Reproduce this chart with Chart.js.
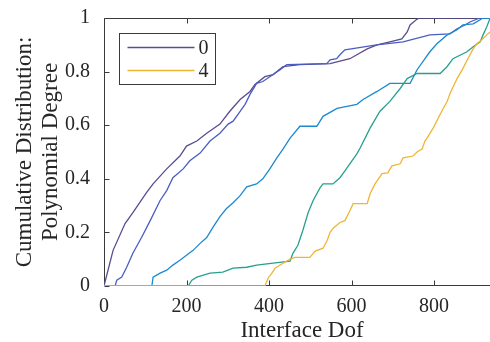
<!DOCTYPE html>
<html lang="en">
<head>
<meta charset="UTF-8">
<title>Cumulative distribution of interface dof</title>
<script src="https://cdn.jsdelivr.net/npm/chart.js"></script>
<style>
  html, body { margin: 0; padding: 0; overflow: hidden; background: #fff; }
  /* a bit wider than the window: the right side of the box is cut off like in the figure */
  #wrap { position: relative; width: 500px; height: 342px; }
</style>
</head>
<body>
<div id="wrap"><canvas id="cdf"></canvas></div>

<script>
// polynomial degrees (one empirical CDF each)
const degreeLabels = ['0', '1', '2', '3', '4'];

// values: interface dof (x) and cumulative fraction (y)
const deg0X = [0, 22, 51, 70, 103, 119, 152, 184, 200, 225, 249, 281, 305, 330, 354, 366, 390, 410, 434, 475, 548, 596, 613, 638, 662, 693, 722, 735, 742, 759, 760, 960];
const deg0Y = [0, 0.133, 0.233, 0.274, 0.348, 0.381, 0.437, 0.485, 0.522, 0.541, 0.570, 0.604, 0.652, 0.696, 0.726, 0.752, 0.781, 0.789, 0.819, 0.826, 0.830, 0.848, 0.863, 0.885, 0.900, 0.911, 0.922, 0.948, 0.974, 0.996, 1, 1];

const deg1X = [0, 27, 31, 43, 55, 70, 91, 112, 136, 152, 167, 192, 208, 233, 257, 281, 301, 313, 330, 342, 354, 370, 385, 402, 427, 443, 540, 548, 564, 572, 584, 661, 725, 790, 839, 855, 875, 887, 911, 960];
const deg1Y = [0, 0, 0.022, 0.033, 0.070, 0.122, 0.181, 0.244, 0.319, 0.356, 0.404, 0.437, 0.467, 0.496, 0.541, 0.570, 0.604, 0.615, 0.652, 0.678, 0.715, 0.756, 0.763, 0.781, 0.807, 0.826, 0.830, 0.844, 0.848, 0.863, 0.881, 0.900, 0.911, 0.937, 0.941, 0.959, 0.974, 0.985, 1, 1];

const deg2X = [0, 116, 119, 136, 152, 167, 184, 200, 216, 233, 249, 264, 281, 297, 313, 330, 346, 370, 385, 402, 419, 434, 451, 475, 516, 531, 565, 613, 628, 662, 693, 742, 759, 773, 790, 807, 832, 856, 870, 895, 919, 960];
const deg2Y = [0, 0, 0.033, 0.048, 0.059, 0.078, 0.096, 0.115, 0.133, 0.159, 0.181, 0.219, 0.259, 0.289, 0.311, 0.337, 0.370, 0.381, 0.400, 0.437, 0.478, 0.511, 0.552, 0.596, 0.596, 0.633, 0.663, 0.678, 0.696, 0.726, 0.756, 0.756, 0.807, 0.837, 0.874, 0.904, 0.937, 0.956, 0.974, 0.978, 1, 1];

const deg3X = [0, 204, 213, 225, 257, 288, 313, 346, 370, 410, 451, 458, 470, 482, 495, 507, 524, 531, 555, 572, 584, 601, 613, 621, 645, 669, 693, 718, 735, 759, 815, 832, 846, 880, 895, 912, 919, 928, 936, 960];
const deg3Y = [0, 0, 0.022, 0.033, 0.048, 0.052, 0.067, 0.070, 0.078, 0.085, 0.093, 0.122, 0.152, 0.207, 0.274, 0.319, 0.367, 0.381, 0.381, 0.404, 0.430, 0.467, 0.493, 0.515, 0.589, 0.652, 0.689, 0.737, 0.774, 0.793, 0.793, 0.819, 0.848, 0.874, 0.893, 0.911, 0.937, 0.967, 1, 1];

const deg4X = [0, 390, 398, 407, 415, 434, 451, 463, 499, 512, 531, 541, 548, 555, 572, 584, 596, 604, 638, 645, 657, 674, 688, 698, 718, 725, 749, 759, 771, 778, 783, 798, 815, 832, 839, 856, 870, 882, 895, 904, 916, 928, 936, 948, 956, 960];
const deg4Y = [0, 0, 0.030, 0.048, 0.067, 0.085, 0.100, 0.107, 0.107, 0.130, 0.141, 0.170, 0.200, 0.215, 0.237, 0.244, 0.281, 0.307, 0.307, 0.344, 0.381, 0.419, 0.422, 0.448, 0.456, 0.478, 0.485, 0.500, 0.511, 0.541, 0.552, 0.589, 0.641, 0.689, 0.719, 0.774, 0.811, 0.848, 0.885, 0.904, 0.919, 0.937, 0.948, 0.970, 1, 1];

const seriesX = [deg0X, deg1X, deg2X, deg3X, deg4X];
const seriesY = [deg0Y, deg1Y, deg2Y, deg3Y, deg4Y];

const xTicks = [0, 200, 400, 600, 800];
const yTicks = [0, 0.2, 0.4, 0.6, 0.8, 1];

const lineColors = ['#5c4b8f', '#4a5ec2', '#1b8ad0', '#27a08f', '#efb634'];
const legendShown = [0, 4];

const axisColor = '#3a3a3a';
const serif = '"Liberation Serif", "DejaVu Serif", serif';

// matlab style box with inward ticks (drawn under the lines)
const axesBox = {
    id: 'axesBox',
    beforeDatasetsDraw(chart) {
        const { ctx, chartArea: a, scales } = chart;
        const L = Math.round(a.left) + 0.5, T = Math.round(a.top) + 0.5, B = Math.round(a.bottom) - 0.5;
        const tick = 5;
        ctx.save();
        ctx.strokeStyle = axisColor;
        ctx.lineWidth = 1;
        ctx.beginPath();
        ctx.moveTo(a.right + 2, T); ctx.lineTo(L, T); ctx.lineTo(L, B); ctx.lineTo(a.right + 2, B);
        xTicks.forEach(v => {
            const px = Math.round(scales.x.getPixelForValue(v)) + 0.5;
            ctx.moveTo(px, B); ctx.lineTo(px, B - tick);
            ctx.moveTo(px, T); ctx.lineTo(px, T + tick);
        });
        yTicks.forEach(v => {
            const py = Math.round(scales.y.getPixelForValue(v)) + 0.5;
            ctx.moveTo(L, py); ctx.lineTo(L + tick, py);
        });
        ctx.stroke();
        ctx.restore();
    },
    afterDraw(chart) {
        // legend box, only degrees 0 and 4 as in the figure
        const { ctx, chartArea: a } = chart;
        const bx = Math.round(a.left) + 15.5, by = Math.round(a.top) + 15.5;
        ctx.save();
        ctx.fillStyle = '#fff';
        ctx.fillRect(bx, by, 96, 51);
        ctx.strokeStyle = axisColor;
        ctx.lineWidth = 1;
        ctx.strokeRect(bx, by, 96, 51);
        ctx.font = '20px ' + serif;
        ctx.textBaseline = 'middle';
        legendShown.forEach((i, row) => {
            const ds = chart.data.datasets[i];
            const ly = Math.round(by + 13.5 + row * 23) + 0.5;
            ctx.strokeStyle = ds.borderColor;
            ctx.lineWidth = 1.3;
            ctx.beginPath();
            ctx.moveTo(bx + 8, ly); ctx.lineTo(bx + 75, ly);
            ctx.stroke();
            ctx.fillStyle = '#262626';
            ctx.fillText(ds.label, bx + 79, ly + 1);
        });
        ctx.restore();
    }
};

const datasets = degreeLabels.map((lab, i) => ({
    label: lab,
    data: seriesX[i].map((x, k) => ({ x: x, y: seriesY[i][k] })),
    borderColor: lineColors[i],
    backgroundColor: lineColors[i],
    borderWidth: 1.3,
    pointRadius: 0,
    tension: 0,
    fill: false,
    order: degreeLabels.length - i   // later degrees on top, like matlab
}));

new Chart(document.getElementById('cdf'), {
    type: 'line',
    data: { datasets: datasets },
    options: {
        responsive: true,
        maintainAspectRatio: false,
        animation: false,
        layout: { padding: { top: 16, left: 0, right: 0, bottom: 0 } },
        plugins: {
            legend: { display: false },
            tooltip: { enabled: false }
        },
        scales: {
            x: {
                type: 'linear',
                min: 0,
                max: 960,
                grid: { display: false },
                border: { display: false },
                afterBuildTicks: s => { s.ticks = xTicks.map(v => ({ value: v })); },
                afterFit: s => { s.height = 56; },
                ticks: {
                    color: '#262626',
                    font: { family: serif, size: 20 },
                    padding: 1,
                    maxRotation: 0,
                    autoSkip: false,
                    callback: v => String(v)
                },
                title: {
                    display: true,
                    text: 'Interface Dof',
                    color: '#262626',
                    font: { family: serif, size: 23, lineHeight: 1.0 },
                    padding: { top: 0, bottom: 0 }
                }
            },
            y: {
                min: 0,
                max: 1,
                grid: { display: false },
                border: { display: false },
                afterBuildTicks: s => { s.ticks = yTicks.map(v => ({ value: v })); },
                afterFit: s => { s.width = 104; },
                ticks: {
                    color: '#262626',
                    font: { family: serif, size: 20 },
                    padding: 6,
                    autoSkip: false,
                    callback: v => String(+v.toFixed(1))
                },
                title: {
                    display: true,
                    text: ['Cumulative Distribution:', 'Polynomial Degree'],
                    color: '#262626',
                    font: { family: serif, size: 23, lineHeight: 1.17 },
                    padding: { top: 11, bottom: 0 }
                }
            }
        }
    },
    plugins: [axesBox]
});
</script>
</body>
</html>
